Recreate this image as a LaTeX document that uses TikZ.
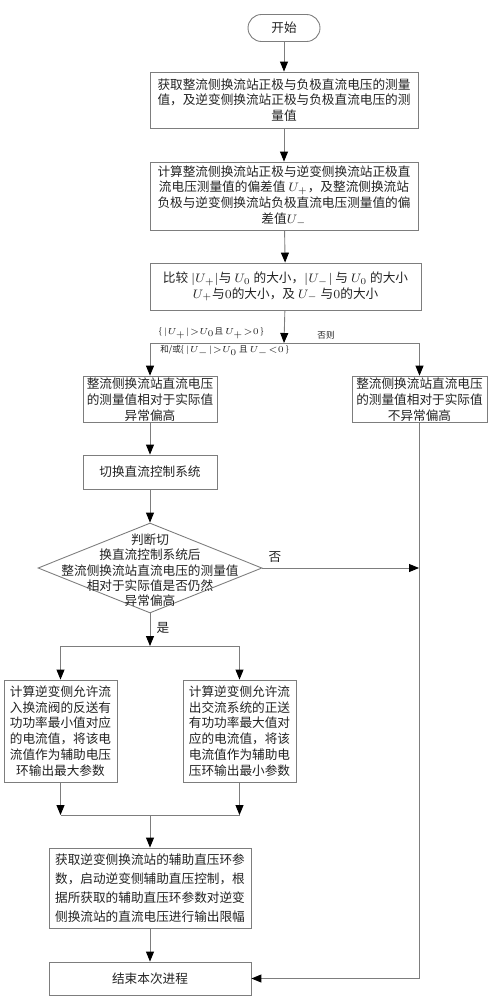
\documentclass[tikz,border=0pt]{standalone}
\usepackage{fontspec}
\usepackage{tikz}
\usetikzlibrary{shapes.geometric, arrows.meta, positioning, calc}
\setmainfont{Liberation Serif}
\newfontfamily\cjk{Noto Sans CJK SC}
\definecolor{linegray}{RGB}{125,125,125}
\definecolor{txtdark}{RGB}{35,35,35}
\tikzset{
  box/.style={rectangle, draw=linegray, fill=white, align=center,
    inner sep=1pt, text=txtdark, line width=0.5pt,
    font=\cjk\fontsize{7.2}{9}\selectfont},
  term/.style={box, rounded corners=0.27cm, minimum width=1.44cm, minimum height=0.54cm},
  decision/.style={diamond, draw=linegray, fill=white, inner sep=0pt, text=txtdark,
    line width=0.5pt, minimum width=4.48cm, minimum height=1.8cm,
    font=\cjk\fontsize{7.2}{8.8}\selectfont},
  arrow/.style={-{Triangle[length=0.2cm, width=0.16cm, color=black]}, line width=0.5pt, color=linegray},
  line/.style={line width=0.5pt, color=linegray},
  cond/.style={text=txtdark, inner sep=0pt, font=\cjk\fontsize{4.9}{6}\selectfont},
  lbl/.style={text=txtdark, inner sep=0pt, font=\cjk\fontsize{7.2}{8}\selectfont}
}

\begin{document}
\begin{tikzpicture}[x=0.02cm, y=-0.02cm]
  \useasboundingbox (0,0) rectangle (491,1000);

  % Start and measurement
  \node[term] (start) at (284,28) {开始};
  \node[box, minimum width=5.36cm, minimum height=1.12cm] (meas) at (284,100)
    {获取整流侧换流站正极与负极直流电压的测量\\值，及逆变侧换流站正极与负极直流电压的测\\量值};
  \node[box, minimum width=5.36cm, minimum height=1.36cm] (dev) at (284,196)
    {计算整流侧换流站正极与逆变侧换流站正极直\\流电压测量值的偏差值 $U_+$，及整流侧换流站\\负极与逆变侧换流站负极直流电压测量值的偏\\差值$U_-$};
  \node[box, minimum width=5.42cm, minimum height=0.94cm] (cmp) at (285.5,286.5)
    {比较 $|U_+|$与 $U_0$ 的大小，$|U_-|$ 与 $U_0$ 的大小\\$U_+$与$0$的大小，及 $U_-$ 与$0$的大小};

  % First branch
  \coordinate (br1) at (284,343);
  \node[box, minimum width=2.68cm, minimum height=0.9cm] (high) at (150,399.5)
    {整流侧换流站直流电压\\的测量值相对于实际值\\异常偏高};
  \node[box, minimum width=2.7cm, minimum height=0.9cm] (nohigh) at (419.5,399.5)
    {整流侧换流站直流电压\\的测量值相对于实际值\\不异常偏高};
  \node[cond, anchor=east] (c1) at (264,333) {\{ $|U_+|{>}U_0$且 $U_+{>}0$ \}};
  \node[cond, anchor=west] (c2) at (160,351) {和/或\{ $|U_-|{>}U_0$ 且 $U_-{<}0$ \}};
  \node[cond] (c3) at (326,335) {否则};

  % Switch and check
  \node[box, minimum width=2.68cm, minimum height=0.68cm] (switch) at (150,472) {切换直流控制系统};
  \node[decision] (check) at (150,568)
    {\makebox[0pt]{\smash{\raisebox{-0.14cm}{\begin{tabular}{@{}c@{}}判断切\\换直流控制系统后\\整流侧换流站直流电压的测量值\\相对于实际值是否仍然\\异常偏高\end{tabular}}}}};
  \coordinate (j1) at (419,568);
  \node[lbl] (no) at (275,557) {否};
  \node[lbl] (yes) at (163,628) {是};

  % Second branch
  \coordinate (br2) at (150,646);
  \node[box, minimum width=2.26cm, minimum height=2.04cm] (maxp) at (60.5,731)
    {计算逆变侧允许流\\入换流阀的反送有\\功功率最小值对应\\的电流值，将该电\\流值作为辅助电压\\环输出最大参数};
  \node[box, minimum width=2.26cm, minimum height=2.04cm] (minp) at (239.5,731)
    {计算逆变侧允许流\\出交流系统的正送\\有功功率最大值对\\应的电流值，将该\\电流值作为辅助电\\压环输出最小参数};
  \coordinate (m1) at (60.5,815);
  \coordinate (m2) at (239.5,815);
  \coordinate (m3) at (150,815);

  % Limiting and end
  \node[box, minimum width=4.04cm, minimum height=1.6cm,
    font=\cjk\fontsize{7.2}{10.8}\selectfont] (limit) at (150,888)
    {获取逆变侧换流站的辅助直压环参\\数，启动逆变侧辅助直压控制，根\\据所获取的辅助直压环参数对逆变\\侧换流站的直流电压进行输出限幅};
  \node[box, minimum width=4.04cm, minimum height=0.66cm] (stop) at (150,978.5) {结束本次进程};

  % Connections
  \draw[arrow] (start) -- (meas);
  \draw[arrow] (meas) -- (dev);
  \draw[arrow] (dev) -- (cmp);
  \draw[arrow] (cmp) -- (br1);
  \draw[arrow] (br1) -| (high);
  \draw[arrow] (br1) -| (nohigh);
  \draw[arrow] (high) -- (switch);
  \draw[arrow] (switch) -- (check);
  \draw[arrow] (check.east) -- (j1);
  \draw[arrow] (nohigh) |- (stop);
  \draw[arrow] (check) -- (br2);
  \draw[arrow] (br2) -| (maxp);
  \draw[arrow] (br2) -| (minp);
  \draw[arrow] (maxp) -- (m1);
  \draw[arrow] (minp) -- (m2);
  \draw[line] (m1) -- (m2);
  \draw[arrow] (m3) -- (limit);
  \draw[arrow] (limit) -- (stop);
\end{tikzpicture}
\end{document}
